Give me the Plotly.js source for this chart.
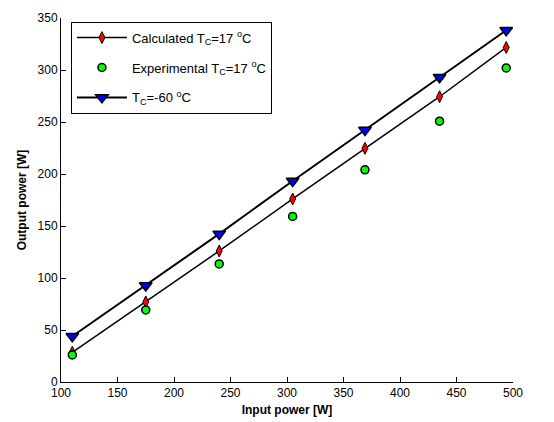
<!DOCTYPE html>
<html>
<head>
<meta charset="utf-8">
<script src="https://cdn.plot.ly/plotly-3.0.1.min.js"></script>
<style>html,body{margin:0;padding:0;background:#fff;}#chart{width:554px;height:422px;}</style>
</head>
<body>
<div id="chart"></div>
<script>
const inputPower = [110, 175, 240, 305, 369, 435, 494];
const calculated17 = [28.6, 77, 126, 176, 224.7, 274.3, 321.7];
const experimental17 = [26, 69.3, 113.5, 159.2, 204, 250.8, 302];
const tcMinus60 = [44, 92.8, 142.4, 193.3, 242.2, 293, 338.2];
const xTicks = [100, 150, 200, 250, 300, 350, 400, 450, 500];
const yTicks = [0, 50, 100, 150, 200, 250, 300, 350];

const font = {family: '"Liberation Sans", Arial, Helvetica, sans-serif', size: 12, color: '#000'};

const traces = [
  {
    x: inputPower, y: calculated17, type: 'scatter', mode: 'lines+markers',
    name: 'Calculated T<sub>C</sub>=17 <sup>o</sup>C', legendgroup: 'a',
    line: {color: '#000', width: 1.5},
    marker: {symbol: 'diamond-tall', size: 8.5, color: '#ff0000', line: {color: '#000', width: 1}}
  },
  {
    x: inputPower, y: experimental17, type: 'scatter', mode: 'markers',
    name: 'Experimental T<sub>C</sub>=17 <sup>o</sup>C', legendgroup: 'b',
    marker: {symbol: 'circle', size: 8, color: '#00ff00', line: {color: '#000', width: 1.5}}
  },
  {
    x: inputPower, y: tcMinus60, type: 'scatter', mode: 'lines+markers',
    name: 'T<sub>C</sub>=-60 <sup>o</sup>C', legendgroup: 'c',
    line: {color: '#000', width: 2},
    marker: {symbol: 'triangle-down', size: 11, color: '#0000ff', line: {color: '#000', width: 1.5}}
  }
];

const layout = {
  width: 554, height: 422,
  margin: {l: 61, r: 41, t: 18, b: 40},
  paper_bgcolor: '#fff', plot_bgcolor: '#fff',
  font: font,
  showlegend: true,
  legend: {
    x: 0.022, y: 0.99, xanchor: 'left', yanchor: 'top',
    bgcolor: '#fff', bordercolor: '#000', borderwidth: 1,
    font: {family: font.family, size: 13, color: '#000'},
    itemwidth: 50, tracegroupgap: 10, traceorder: 'grouped'
  },
  xaxis: {
    range: [100, 500], tickvals: xTicks, ticktext: xTicks.map(String),
    ticks: 'inside', ticklen: 5, tickcolor: '#000', tickwidth: 1,
    showline: true, linecolor: '#000', linewidth: 1, mirror: false,
    showgrid: false, zeroline: false,
    tickfont: font,
    title: {text: '<b>Input power [W]</b>', font: {family: font.family, size: 12, color: '#000'}, standoff: 6}
  },
  yaxis: {
    range: [0, 350], tickvals: yTicks, ticktext: yTicks.map(String),
    ticks: 'inside', ticklen: 5, tickcolor: '#000', tickwidth: 1,
    showline: true, linecolor: '#000', linewidth: 1, mirror: false,
    showgrid: false, zeroline: false,
    tickfont: font,
    title: {text: '<b>Output power [W]</b>', font: {family: font.family, size: 12, color: '#000'}, standoff: 8}
  }
};

Plotly.newPlot('chart', traces, layout, {displayModeBar: false, staticPlot: true});
</script>
</body>
</html>
